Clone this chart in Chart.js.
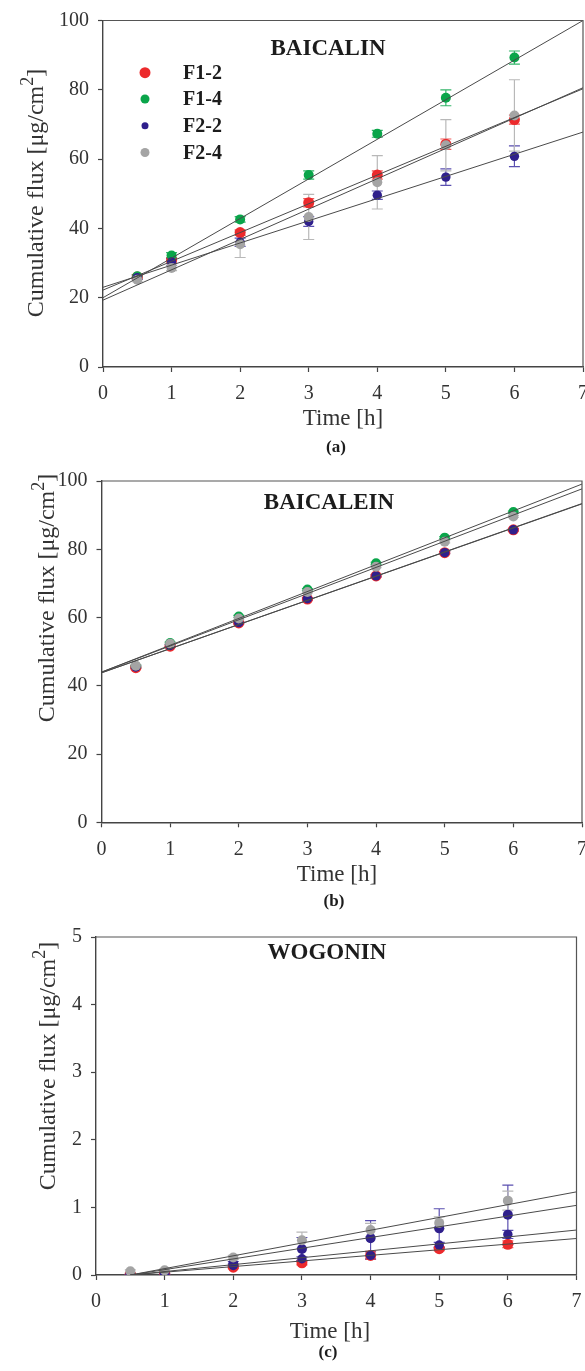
<!DOCTYPE html>
<html>
<head>
<meta charset="utf-8">
<script src="https://cdn.jsdelivr.net/npm/chart.js@4.4.1/dist/chart.umd.min.js"></script>
<style>
    html, body { margin: 0; padding: 0; background: #fff; width: 585px; height: 1371px; overflow: hidden; }
    canvas.panel { position: absolute; left: 0; }
</style>
</head>
<body>
<canvas id="chart-a" class="panel" width="600" height="462" style="top:0px"></canvas>
<canvas id="chart-b" class="panel" width="600" height="456" style="top:462px"></canvas>
<canvas id="chart-c" class="panel" width="600" height="453" style="top:918px"></canvas>
<script>
// sampling times [h]
const times = [0.5, 1, 2, 3, 4, 5, 6];
const seriesNames = ['F1-2', 'F1-4', 'F2-2', 'F2-4'];
const xTicks = [0, 7, 1];   // min, max, step

// (a) baicalin, rows follow seriesNames
const baicalinValues = [
    [26.0, 30.8, 38.8, 47.4, 55.4, 64.3, 71.4],
    [26.2, 32.2, 42.6, 55.4, 67.3, 77.7, 89.3],
    [25.8, 30.3, 36.0, 42.0, 49.6, 54.8, 60.8],
    [25.2, 28.6, 35.4, 43.3, 53.3, 64.0, 72.6]
];
const baicalinErrors = [
    [0.6, 0.8, 0.8, 1.2, 1.2, 1.5, 1.3],
    [0.5, 0.8, 0.8, 1.2, 1.0, 2.3, 1.9],
    [0.5, 1.0, 1.2, 1.4, 1.2, 2.4, 3.0],
    [0.6, 0.8, 3.8, 6.5, 7.7, 7.4, 10.3]
];
const baicalinFitStart = [22.2, 20.0, 23.0, 19.3];   // at x = 0
const baicalinFitEnd = [80.3, 100.0, 67.8, 80.6];    // at x = 7
const baicalinYTicks = [0, 100, 20];

// (b) baicalein
const baicaleinValues = [
    [45.3, 51.6, 58.4, 65.4, 72.2, 79.0, 85.7],
    [45.7, 52.5, 60.3, 68.2, 75.9, 83.4, 90.9],
    [45.5, 51.8, 58.5, 65.5, 72.2, 79.0, 85.7],
    [45.9, 52.3, 59.7, 67.5, 74.9, 82.2, 89.6]
];
const baicaleinErrors = [
    [0.3, 0.3, 0.3, 0.3, 0.3, 0.3, 0.3],
    [0.3, 0.3, 0.3, 0.3, 0.3, 0.3, 0.3],
    [0.3, 0.3, 0.3, 0.3, 0.3, 0.3, 0.3],
    [0.3, 0.3, 0.3, 0.3, 0.3, 0.3, 0.3]
];
const baicaleinFitStart = [43.8, 44.0, 43.8, 44.0];  // at x = 0
const baicaleinFitEnd = [93.3, 99.1, 93.4, 97.7];    // at x = 7
const baicaleinYTicks = [0, 100, 20];

// (c) wogonin
const wogoninValues = [
    [0.01, 0.02, 0.115, 0.18, 0.29, 0.39, 0.455],
    [0.00, 0.01, 0.17, 0.385, 0.545, 0.69, 0.89],
    [0.00, 0.00, 0.14, 0.24, 0.29, 0.444, 0.60],
    [0.055, 0.07, 0.26, 0.515, 0.665, 0.771, 1.10]
];
const wogoninErrors = [
    [0.01, 0.01, 0.02, 0.03, 0.06, 0.03, 0.05],
    [0.01, 0.01, 0.03, 0.17, 0.26, 0.29, 0.44],
    [0.01, 0.01, 0.02, 0.03, 0.05, 0.04, 0.06],
    [0.02, 0.02, 0.03, 0.12, 0.10, 0.09, 0.14]
];
const wogoninFitStart = [0, 0, 0, 0];                // at x = 0.5
const wogoninFitEnd = [0.54, 1.03, 0.665, 1.23];     // at x = 7
const wogoninYTicks = [0, 5, 1];

const SERIF = '"Liberation Serif", "Times New Roman", Times, serif';
const INK = '#333333';
const RED = '#ec2a2c', GREEN = '#0aa54a', INDIGO = '#2f1f8c', GREY = '#a4a4a4';
const markColors = [RED, GREEN, INDIGO, GREY];
const errColors = ['#f05a5a', '#34b56a', '#5a4fb0', '#b8b8b8'];
const markRadius = [5.5, 5, 4.7, 5];
// draw order: grey on top, red at the back
const markOrder = [4, 3, 2, 1];

const decorPlugin = {
    id: 'decor',
    beforeDatasetsDraw(chart) {
        const p = chart.options.plugins.decor;
        const { ctx, chartArea: ca } = chart;
        const xs = chart.scales.x, ys = chart.scales.y;
        ctx.save();
        ctx.beginPath();
        ctx.rect(ca.left, ca.top - 6, ca.right - ca.left, ca.bottom - ca.top + 6);
        ctx.clip();
        ctx.lineWidth = 1.2;
        p.values.forEach((row, i) => {
            ctx.strokeStyle = p.errColors[i];
            row.forEach((v, j) => {
                const e = p.errors[i][j];
                const x = xs.getPixelForValue(times[j]);
                const y1 = ys.getPixelForValue(v + e);
                const y2 = ys.getPixelForValue(v - e);
                ctx.beginPath();
                ctx.moveTo(x, y1); ctx.lineTo(x, y2);
                ctx.moveTo(x - 5.5, y1); ctx.lineTo(x + 5.5, y1);
                ctx.moveTo(x - 5.5, y2); ctx.lineTo(x + 5.5, y2);
                ctx.stroke();
            });
        });
        ctx.restore();
    },
    afterDraw(chart) {
        const p = chart.options.plugins.decor;
        const { ctx, chartArea: ca } = chart;
        ctx.save();
        // top and right frame
        ctx.strokeStyle = '#555';
        ctx.lineWidth = 1.2;
        ctx.beginPath();
        ctx.moveTo(ca.left, ca.top); ctx.lineTo(ca.right, ca.top); ctx.lineTo(ca.right, ca.bottom);
        ctx.stroke();

        ctx.fillStyle = '#1c1c1c';
        ctx.textAlign = 'center';
        ctx.textBaseline = 'middle';
        ctx.font = 'bold 23px ' + SERIF;
        ctx.fillText(p.title, p.titleX, p.titleY);

        ctx.fillStyle = INK;
        ctx.font = '23px ' + SERIF;
        ctx.fillText('Time [h]', p.xTitleX, p.xTitleY);

        ctx.font = 'bold 17px ' + SERIF;
        ctx.fillStyle = '#1c1c1c';
        ctx.fillText(p.label, p.labelX, p.labelY);

        // rotated y title with superscript
        ctx.fillStyle = INK;
        ctx.translate(p.yTitleX, p.yTitleY);
        ctx.rotate(-Math.PI / 2);
        ctx.textAlign = 'left';
        ctx.textBaseline = 'alphabetic';
        const main = 'Cumulative flux [\u03bcg/cm';
        ctx.font = '24px ' + SERIF;
        const w1 = ctx.measureText(main).width;
        const w3 = ctx.measureText(']').width;
        ctx.font = '18px ' + SERIF;
        const w2 = ctx.measureText('2').width;
        let x = -(w1 + w2 + w3) / 2;
        ctx.font = '24px ' + SERIF;
        ctx.fillText(main, x, 0);
        x += w1;
        ctx.font = '18px ' + SERIF;
        ctx.fillText('2', x, -10);
        x += w2;
        ctx.font = '24px ' + SERIF;
        ctx.fillText(']', x, 0);
        ctx.setTransform(1, 0, 0, 1, 0, 0);

        if (p.legend) {
            const legendR = [5.5, 4.5, 3.5, 4.5];
            ctx.textAlign = 'left';
            ctx.textBaseline = 'middle';
            ctx.font = 'bold 20px ' + SERIF;
            seriesNames.forEach((name, i) => {
                const y = p.legend.y[i];
                ctx.fillStyle = markColors[i];
                ctx.beginPath();
                ctx.arc(p.legend.x, y, legendR[i], 0, Math.PI * 2);
                ctx.fill();
                ctx.fillStyle = '#1c1c1c';
                ctx.fillText(name, p.legend.textX, y + 1);
            });
        }
        ctx.restore();
    }
};

function buildPanel(id, cfg) {
    const colors = cfg.colors || markColors;
    const errs = cfg.errColors || errColors;
    const datasets = [];
    seriesNames.forEach((name, i) => {
        datasets.push({
            label: name + ' fit',
            data: [{ x: cfg.fitX0, y: cfg.fitStart[i] }, { x: xTicks[1], y: cfg.fitEnd[i] }],
            showLine: true,
            borderColor: '#4a4a4a',
            borderWidth: 1,
            pointRadius: 0,
            order: 0
        });
    });
    seriesNames.forEach((name, i) => {
        datasets.push({
            label: name,
            data: times.map((t, j) => ({ x: t, y: cfg.values[i][j] })),
            showLine: false,
            pointRadius: markRadius[i],
            pointBackgroundColor: colors[i],
            pointBorderWidth: 0,
            pointBorderColor: colors[i],
            order: markOrder[i]
        });
    });

    const canvas = document.getElementById(id);
    const H = canvas.height, W = canvas.width;
    const a = cfg.area;
    const tickFont = { family: SERIF, size: 20, lineHeight: 1 };

    return new Chart(canvas, {
        type: 'scatter',
        data: { datasets },
        options: {
            responsive: false,
            animation: false,
            events: [],
            layout: { padding: { top: a.top, right: W - a.right, left: 0, bottom: 0 } },
            scales: {
                x: {
                    type: 'linear',
                    min: xTicks[0], max: xTicks[1],
                    afterFit: s => { s.height = H - a.bottom; },
                    ticks: { stepSize: xTicks[2], color: INK, font: tickFont, padding: 12, maxRotation: 0 },
                    grid: { drawOnChartArea: false, drawTicks: true, tickLength: 5, tickColor: '#444', tickWidth: 1.2 },
                    border: { color: '#444', width: 1.4 }
                },
                y: {
                    type: 'linear',
                    min: cfg.yTicks[0], max: cfg.yTicks[1],
                    afterFit: s => { s.width = a.left; },
                    ticks: { stepSize: cfg.yTicks[2], color: INK, font: tickFont, padding: 9 },
                    grid: { drawOnChartArea: false, drawTicks: true, tickLength: 5, tickColor: '#444', tickWidth: 1.2 },
                    border: { color: '#444', width: 1.4 }
                }
            },
            plugins: {
                legend: { display: false },
                tooltip: { enabled: false },
                decor: Object.assign({ values: cfg.values, errors: cfg.errors, errColors: errs }, cfg.decor)
            }
        },
        plugins: [decorPlugin]
    });
}

buildPanel('chart-a', {
    values: baicalinValues, errors: baicalinErrors,
    fitX0: 0, fitStart: baicalinFitStart, fitEnd: baicalinFitEnd,
    yTicks: baicalinYTicks,
    area: { top: 20.5, bottom: 367, left: 103, right: 584 },
    decor: {
        title: 'BAICALIN', titleX: 328, titleY: 49,
        xTitleX: 343, xTitleY: 419, label: '(a)', labelX: 336, labelY: 448,
        yTitleX: 43, yTitleY: 193,
        legend: { x: 145, textX: 183, y: [72.7, 99, 125.7, 152.5] }
    }
});

buildPanel('chart-b', {
    values: baicaleinValues, errors: baicaleinErrors,
    fitX0: 0, fitStart: baicaleinFitStart, fitEnd: baicaleinFitEnd,
    yTicks: baicaleinYTicks,
    area: { top: 14.7, bottom: 360.3, left: 101.5, right: 582 },
    decor: {
        title: 'BAICALEIN', titleX: 329, titleY: 41,
        xTitleX: 337, xTitleY: 413, label: '(b)', labelX: 334, labelY: 440,
        yTitleX: 54, yTitleY: 136
    }
});

buildPanel('chart-c', {
    values: wogoninValues, errors: wogoninErrors,
    colors: [RED, INDIGO, INDIGO, GREY],
    errColors: ['#f05a5a', '#5a4fb0', '#5a4fb0', '#b8b8b8'],
    fitX0: 0.5, fitStart: wogoninFitStart, fitEnd: wogoninFitEnd,
    yTicks: wogoninYTicks,
    area: { top: 11.5, bottom: 357, left: 96, right: 576.5 },
    decor: {
        title: 'WOGONIN', titleX: 327, titleY: 35,
        xTitleX: 330, xTitleY: 414, label: '(c)', labelX: 328, labelY: 435,
        yTitleX: 55, yTitleY: 148
    }
});
</script>
</body>
</html>
